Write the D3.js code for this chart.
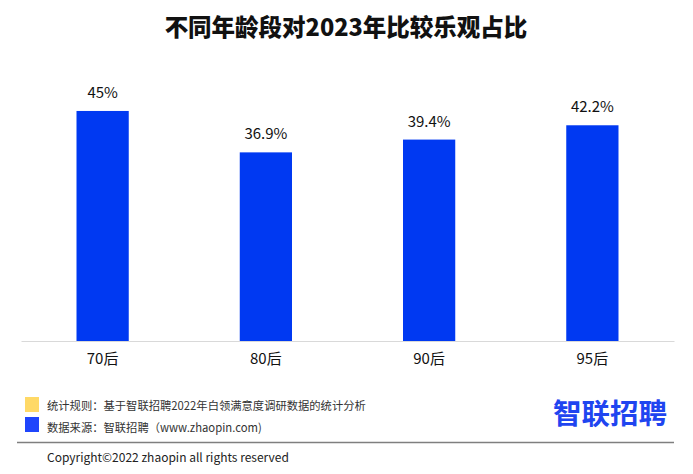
<!DOCTYPE html>
<html>
<head>
<meta charset="utf-8">
<script src="https://cdn.jsdelivr.net/npm/d3@7"></script>
<style>
  html, body { margin: 0; padding: 0; background: #fff; }
  svg { display: block; }
  text { font-family: "Noto Sans CJK SC", "Noto Sans", sans-serif; }
</style>
</head>
<body>
<svg id="chart" width="693" height="474"></svg>
<script>
const title = "不同年龄段对2023年比较乐观占比";
const categories = ["70后", "80后", "90后", "95后"];
const values = [45, 36.9, 39.4, 42.2];
const valueLabels = ["45%", "36.9%", "39.4%", "42.2%"];
const notes = ["统计规则：基于智联招聘2022年白领满意度调研数据的统计分析", "数据来源：智联招聘（www.zhaopin.com)"];
const noteColors = ["#ffd966", "#1f45fc"];
const copyright = "Copyright©2022 zhaopin all rights reserved";
const logoText = "智联招聘";

const svg = d3.select("#chart");
svg.append("rect").attr("width", 693).attr("height", 474).attr("fill", "#fff");

svg.append("text")
  .attr("x", 346).attr("y", 36)
  .attr("text-anchor", "middle")
  .attr("font-size", 23.5).attr("font-weight", 900)
  .attr("fill", "#111")
  .text(title);

const x = d3.scaleBand().domain(categories).range([21, 674]).paddingInner(0.68).paddingOuter(0.34);
const y = d3.scaleLinear().domain([0, 50]).range([341, 85.4]);

svg.append("g").selectAll("rect").data(values).join("rect")
  .attr("x", (d, i) => x(categories[i]))
  .attr("y", d => y(d))
  .attr("width", x.bandwidth())
  .attr("height", d => y(0) - y(d))
  .attr("fill", "#0039f2");

svg.append("g").selectAll("text").data(values).join("text")
  .attr("x", (d, i) => x(categories[i]) + x.bandwidth() / 2)
  .attr("y", d => y(d) - 13)
  .attr("text-anchor", "middle")
  .attr("font-size", 15)
  .attr("fill", "#111")
  .text((d, i) => valueLabels[i]);

const xAxis = svg.append("g").attr("transform", "translate(0,341)")
  .call(d3.axisBottom(x).tickSize(0).tickPadding(0));
xAxis.select(".domain").attr("stroke", "#d9d9d9").attr("stroke-width", 1.2);
xAxis.selectAll(".tick text")
  .attr("y", 23)
  .attr("dy", 0)
  .attr("font-size", 15)
  .attr("font-family", "'Noto Sans CJK SC', sans-serif")
  .attr("fill", "#111");

// footer notes
const noteG = svg.append("g");
notes.forEach((t, i) => {
  noteG.append("rect")
    .attr("x", 25).attr("y", 397 + i * 20)
    .attr("width", 14).attr("height", 15)
    .attr("fill", noteColors[i]);
  noteG.append("text")
    .attr("x", 47).attr("y", 409.5 + i * 22)
    .attr("font-size", 11.3)
    .attr("fill", "#333")
    .text(t);
});

svg.append("line")
  .attr("x1", 17).attr("x2", 674).attr("y1", 442.5).attr("y2", 442.5)
  .attr("stroke", "#7f7f7f").attr("stroke-width", 1.5);

svg.append("text")
  .attr("x", 47).attr("y", 462)
  .attr("font-size", 12)
  .attr("fill", "#222")
  .text(copyright);

svg.append("text")
  .attr("x", 553).attr("y", 424)
  .attr("font-size", 28.5).attr("font-weight", 700)
  .attr("fill", "#1f45f0")
  .text(logoText);
</script>
</body>
</html>
